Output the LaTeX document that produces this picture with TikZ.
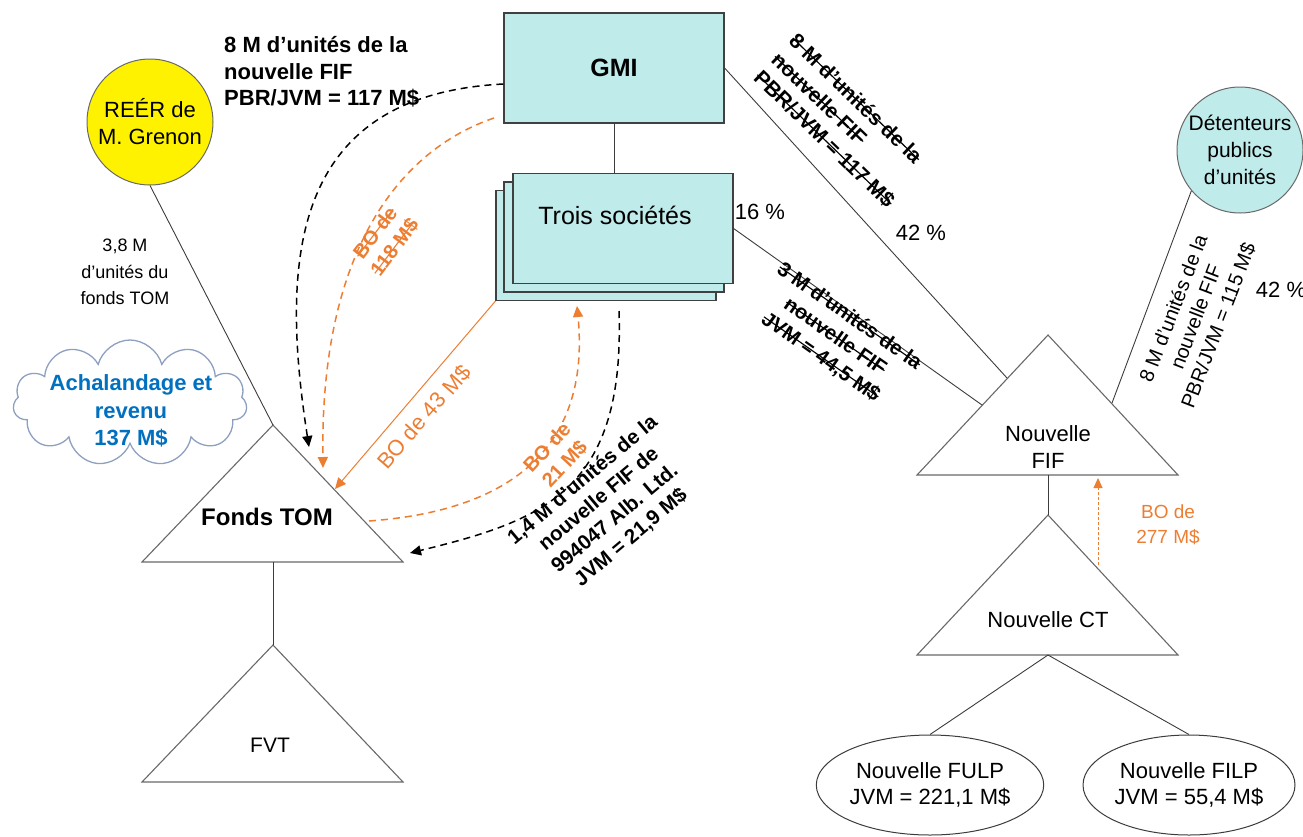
\documentclass[tikz,border=0pt]{standalone}
\usepackage{fontspec}
\setmainfont{Liberation Sans}
\usetikzlibrary{arrows.meta,shapes.geometric,shapes.symbols}
\definecolor{boxfill}{RGB}{191,235,234}
\definecolor{boorange}{RGB}{237,125,49}
\definecolor{textblue}{RGB}{0,112,192}
\definecolor{cloudedge}{RGB}{142,160,192}
\definecolor{linegray}{RGB}{60,60,60}
\definecolor{trigray}{RGB}{105,105,105}
% struck-through text: a thin rule drawn across the word
\newcommand\strk[1]{\setbox0\hbox{#1}\rlap{\rule[0.3em]{\wd0}{0.055em}}\box0}
\begin{document}
\begin{tikzpicture}[x=1pt,y=-1pt,
  conn/.style={draw=linegray, line width=0.9pt},
  tri/.style={draw=trigray, line width=1.1pt, fill=white},
  boxnode/.style={draw=black!75, line width=1.2pt, fill=boxfill, minimum width=220pt, minimum height=110pt, inner sep=0pt},
  txt/.style={inner sep=0pt, align=center, font=\fontsize{22}{26.5}\selectfont},
  txtb/.style={inner sep=0pt, align=center, font=\fontsize{22}{26.5}\selectfont\bfseries},
  rotb/.style={inner sep=0pt, align=center, font=\fontsize{21}{25.5}\selectfont\bfseries},
  smalltxt/.style={inner sep=0pt, align=center, font=\fontsize{19}{25}\selectfont},
  blkarrow/.style={draw=black, line width=1.5pt, dash pattern=on 7pt off 5pt, -{Triangle[length=11pt,width=10pt]}},
  orgarrow/.style={draw=boorange, line width=1.5pt, dash pattern=on 7pt off 5pt, -{Triangle[length=11pt,width=10pt]}},
  orgline/.style={draw=boorange, line width=1pt, -{Triangle[length=11pt,width=10pt]}},
  orgdot/.style={draw=boorange, line width=0.9pt, dash pattern=on 3pt off 2pt, -{Triangle[length=10pt,width=9pt]}}
]
\useasboundingbox (0,0) rectangle (1303,836);

% ---- triangle corners ----
\coordinate (tomtop) at (273,425);
\coordinate (tomL) at (142,562);
\coordinate (tomR) at (403,562);
\coordinate (tombase) at (273,562);
\coordinate (fvttop) at (273,645);
\coordinate (fvtL) at (142,782);
\coordinate (fvtR) at (403,782);
\coordinate (fiftop) at (1048,335);
\coordinate (fifL) at (917,475);
\coordinate (fifR) at (1178,475);
\coordinate (fifbase) at (1048,475);
\coordinate (cttop) at (1048,515);
\coordinate (ctL) at (917,655);
\coordinate (ctR) at (1178,655);
\coordinate (ctbase) at (1048,655);
% points where connectors meet the triangle sides
\coordinate (fifA) at (1007,378);
\coordinate (fifB) at (982,405);
\coordinate (fifC) at (1112,403);
\coordinate (tomarrA) at (309,447);
\coordinate (tomarrB) at (323,468);
\coordinate (tomarrC) at (335,489);
\coordinate (tomout) at (369,521);
\coordinate (tomarrD) at (410,553);
\coordinate (ctout) at (1098,565);
\coordinate (fifin) at (1098,478);

% ---- triangles ----
\draw[tri] (tomtop) -- (tomR) -- (tomL) -- cycle;
\draw[tri] (fvttop) -- (fvtR) -- (fvtL) -- cycle;
\draw[tri] (fiftop) -- (fifR) -- (fifL) -- cycle;
\draw[tri] (cttop) -- (ctR) -- (ctL) -- cycle;

\node[txtb, font=\fontsize{24}{28}\selectfont\bfseries] (tomlbl) at (267,517) {Fonds TOM};
\node[txt, font=\fontsize{21}{25}\selectfont] (fvtlbl) at (270,745) {FVT};
\node[txt] (fiflbl) at (1048,447) {Nouvelle\\FIF};
\node[txt] (ctlbl) at (1048,620) {Nouvelle CT};

% ---- boxes ----
\node[boxnode, font=\fontsize{25}{30}\selectfont\bfseries] (gmi) at (614,68) {GMI};
\node[boxnode] (ts3) at (606,245.5) {};
\node[boxnode] (ts2) at (614,237) {};
\node[boxnode] (ts1) at (623,228.5) {};
\node[txt, font=\fontsize{25}{30}\selectfont] (tslbl) at (615,215) {Trois sociétés};

% ---- circles, ellipses, cloud ----
\node[circle, draw=trigray, line width=1pt, fill=yellow, minimum size=126pt, inner sep=0pt,
      txt, font=\fontsize{22}{27}\selectfont] (reer) at (150,122) {REÉR de\\M. Grenon};
\node[circle, draw=trigray, line width=1pt, fill=boxfill, minimum size=126pt, inner sep=0pt,
      txt, font=\fontsize{21}{27}\selectfont] (det) at (1240,150) {Détenteurs\\publics\\d’unités};
\node[ellipse, draw=linegray, line width=1pt, fill=white, minimum width=214pt, minimum height=100pt,
      inner sep=0pt, txt] (fulp) at (930,785) {Nouvelle FULP\\JVM = 221,1 M\$};
\node[ellipse, draw=linegray, line width=1pt, fill=white, minimum width=212pt, minimum height=100pt,
      inner sep=0pt, txt] (filp) at (1189,785) {Nouvelle FILP\\JVM = 55,4 M\$};
\node[cloud, cloud puffs=11, aspect=1.8, draw=cloudedge, line width=1.3pt, fill=white,
      minimum width=234pt, minimum height=126pt, inner sep=0pt] (cloud) at (130,403) {};
\node[txtb, text=textblue, font=\fontsize{22}{27.5}\selectfont\bfseries] (cloudlbl) at (131,411)
      {Achalandage et\\revenu\\137 M\$};

% ---- solid connectors ----
\draw[conn] (reer.south) -- (tomtop);
\draw[conn] (gmi.south) -- (gmi.south |- ts1.north);
\draw[conn] (gmi.east) -- (fifA);
\draw[conn] (ts1.east) -- (fifB);
\draw[conn] (det.220) -- (fifC);
\draw[conn] (tombase) -- (fvttop);
\draw[conn] (fifbase) -- (cttop);
\draw[conn] (ctbase) -- (fulp.north);
\draw[conn] (ctbase) -- (filp.north);

% ---- flows between GMI, Trois sociétés and Fonds TOM ----
\draw[blkarrow] (gmi.west |- 0,84) .. controls (290,95) and (280,260) .. (tomarrA);
\draw[orgarrow] (494,118) .. controls (400,150) and (320,250) .. (tomarrB);
\draw[orgline] (ts3.south west) -- (tomarrC);
\draw[orgarrow] (tomout) .. controls (520,510) and (590,440) .. (577,306);
\draw[blkarrow] (619,311) .. controls (625,490) and (545,520) .. (tomarrD);
\draw[orgdot] (ctout) -- (fifin);

% ---- labels ----
\node[txtb, align=left, anchor=west] (lblgmi) at (224,72)
  {8 M d'unités de la\\nouvelle FIF\\PBR/JVM = 117 M\$};
\node[txt, font=\fontsize{18}{26.5}\selectfont] (lblreer) at (125,272)
  {3,8 M\\d'unités du\\fonds TOM};
\node[rotb, font=\fontsize{20}{24}\selectfont\bfseries, text=boorange, rotate=53] (lbl118) at (385,240)
  {\strk{BO de}\\\strk{118 M\$}};
\node[txt, text=boorange, rotate=49] (lbl43) at (424,417) {BO de 43 M\$};
\node[rotb, font=\fontsize{20}{24}\selectfont\bfseries, text=boorange, rotate=47] (lbl21) at (556,456)
  {BO de\\21 M\$};
\node[rotb, font=\fontsize{20.5}{25}\selectfont\bfseries, rotate=40] (lbl14) at (607,509)
  {1,4 M d'unités de la\\nouvelle FIF de\\994047 Alb. Ltd.\\JVM = 21,9 M\$};
\node[rotb, align=left, rotate=-44] (lbl117) at (842,121)
  {\strk{8 M d'unités de la}\\\strk{nouvelle FIF}\\\strk{PBR/JVM = 117 M\$}};
\node[rotb, font=\fontsize{20.5}{25}\selectfont\bfseries, rotate=-35] (lbl445) at (835,337)
  {\strk{3 M d'unités de la}\\\strk{nouvelle FIF}\\\strk{JVM = 44,5 M\$}};
\node[txt, font=\fontsize{20}{24}\selectfont, rotate=69] (lbl115) at (1196,317)
  {8 M d'unités de la\\nouvelle  FIF\\PBR/JVM = 115 M\$};
\node[txt] (pct16) at (760,212) {16 \%};
\node[txt] (pct42a) at (921,233) {42 \%};
\node[txt] (pct42b) at (1281,290) {42 \%};
\node[smalltxt, text=boorange] (lbl277) at (1168,525) {BO de\\277 M\$};
\end{tikzpicture}
\end{document}
